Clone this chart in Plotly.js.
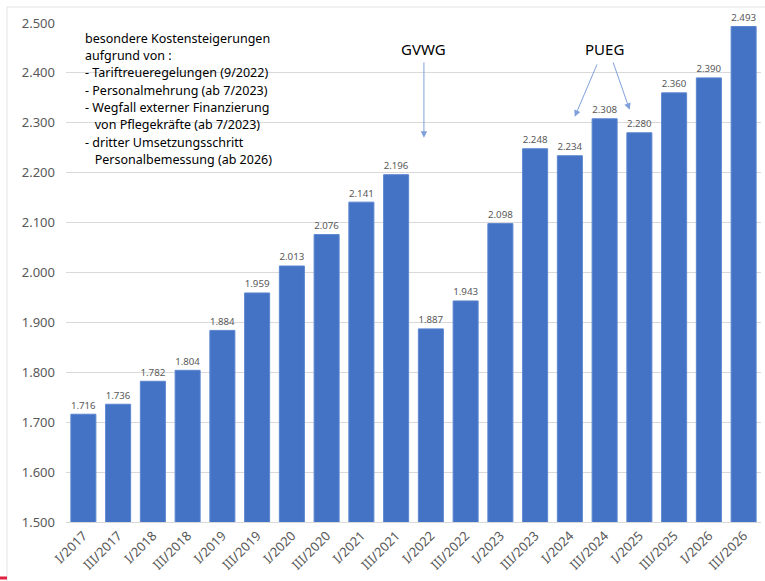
<!DOCTYPE html>
<html><head><meta charset="utf-8">
<script src="https://cdn.plot.ly/plotly-3.0.1.min.js"></script>
<style>body{margin:0;background:#fff}#c{width:765px;height:581px}</style>
</head><body><div id="c"></div>
<script>
const categories = ["I/2017","III/2017","I/2018","III/2018","I/2019","III/2019","I/2020","III/2020","I/2021","III/2021","I/2022","III/2022","I/2023","III/2023","I/2024","III/2024","I/2025","III/2025","I/2026","III/2026"];
const values = [1716,1736,1782,1804,1884,1959,2013,2076,2141,2196,1887,1943,2098,2248,2234,2308,2280,2360,2390,2493];
const noteLines = ["besondere Kostensteigerungen","aufgrund von :","- Tariftreueregelungen (9/2022)","- Personalmehrung (ab 7/2023)","- Wegfall externer Finanzierung","   von Pflegekräfte (ab 7/2023)","- dritter Umsetzungsschritt","   Personalbemessung (ab 2026)"];

const font = "Noto Sans, Open Sans, sans-serif";
const W = 765, H = 581, mL = 66, mR = 4, mT = 23, mB = 59;
const pw = W - mL - mR, ph = H - mT - mB;
const px = v => (v - mL) / pw;
const py = v => (H - mB - v) / ph;

const trace = {
  type: "bar", x: categories, y: values,
  marker: {color: "#4472C4", line: {color: "#5B86D0", width: 1}},
  texttemplate: "%{y:,}", textposition: "outside", cliponaxis: false,
  textfont: {family: font, size: 11.5, color: "#595959"},
  hoverinfo: "skip"
};
const arrowCol = "#7FA0DA";
const noteAnns = noteLines.map((t, i) => ({
  xref: "paper", yref: "paper", x: px(83), y: py(38 + i * 17.4), xanchor: "left", yanchor: "middle",
  showarrow: false, text: t.replace(/^ +/, m => "\u00a0".repeat(m.length)),
  font: {family: font, size: 12.5, color: "#000"}
}));
const layout = {
  width: W, height: H,
  margin: {l: mL, r: mR, t: mT, b: mB},
  paper_bgcolor: "#fff", plot_bgcolor: "#fff",
  separators: ",.",
  bargap: 0.28,
  showlegend: false,
  xaxis: {type: "category", tickangle: -45, tickfont: {family: font, size: 13, color: "#595959"},
          showline: true, linecolor: "#D9D9D9", ticks: "", automargin: false},
  yaxis: {range: [1500, 2500], dtick: 100, tickformat: ",", showgrid: true, gridcolor: "#D9D9D9",
          tickfont: {family: font, size: 13, color: "#595959"}, zeroline: false, ticks: "",
          ticklabelstandoff: 10, automargin: false},
  shapes: [
    {type: "line", xref: "paper", yref: "paper", x0: px(7), x1: px(7), y0: py(7), y1: py(581), line: {color: "#E3E3E3", width: 1}},
    {type: "line", xref: "paper", yref: "paper", x0: px(7), x1: px(765), y0: py(7), y1: py(7), line: {color: "#E3E3E3", width: 1}},
    {type: "line", xref: "paper", yref: "paper", x0: px(0), x1: px(7), y0: py(578), y1: py(578), line: {color: "#E0203C", width: 3}}
  ],
  annotations: noteAnns.concat([
    {x: 9.8, y: 2448, text: "GVWG", showarrow: false, font: {family: font, size: 15, color: "#000"}},
    {x: 15, y: 2448, text: "PUEG", showarrow: false, font: {family: font, size: 15, color: "#000"}},
    {x: 9.8, y: 2270, ax: 9.8, ay: 2424, axref: "x", ayref: "y", text: "", showarrow: true,
     arrowhead: 2, arrowsize: 1.3, arrowwidth: 1, arrowcolor: arrowCol},
    {x: 14.14, y: 2312, ax: 14.8, ay: 2420, axref: "x", ayref: "y", text: "", showarrow: true,
     arrowhead: 2, arrowsize: 1.3, arrowwidth: 1, arrowcolor: arrowCol},
    {x: 15.72, y: 2326, ax: 15.23, ay: 2424, axref: "x", ayref: "y", text: "", showarrow: true,
     arrowhead: 2, arrowsize: 1.3, arrowwidth: 1, arrowcolor: arrowCol}
  ])
};
Plotly.newPlot("c", [trace], layout, {displayModeBar: false, staticPlot: true});
</script></body></html>
